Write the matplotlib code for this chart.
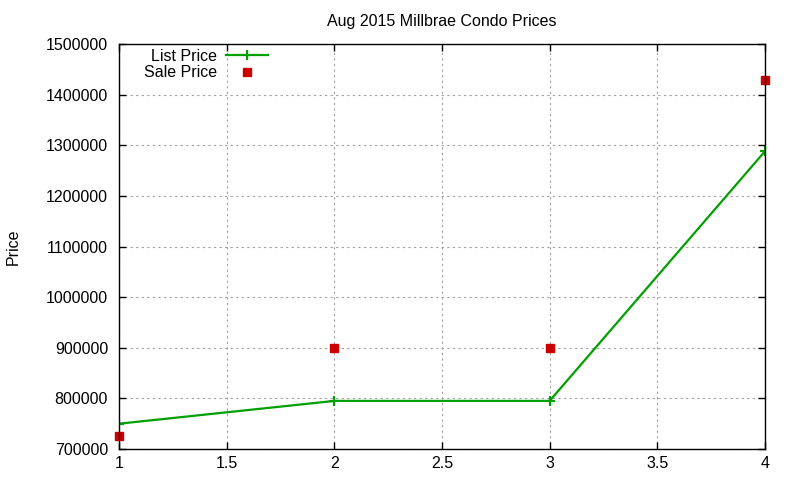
import matplotlib
matplotlib.use("Agg")
import matplotlib.pyplot as plt

plt.rcParams['font.family'] = ['Liberation Sans', 'DejaVu Sans']

x_vals = [1, 2, 3, 4]
list_price = [750000, 795000, 795000, 1288000]
sale_price = [725000, 900000, 900000, 1430000]

y_ticks = [700000, 800000, 900000, 1000000, 1100000, 1200000, 1300000, 1400000, 1500000]
x_ticks = [1, 1.5, 2, 2.5, 3, 3.5, 4]

fig = plt.figure(figsize=(8, 4.8), dpi=100)
ax = fig.add_axes([0.149, 0.0646, 0.807, 0.8434])

ax.plot(x_vals, list_price, color='#00a000', lw=1.6, marker='+', ms=7, mew=1.5,
        label='List Price')
ax.plot(x_vals, sale_price, ls='none', marker='s', ms=6, color='#cc0000',
        label='Sale Price', clip_on=False)

ax.set_xlim(1, 4)
ax.set_ylim(700000, 1500000)
ax.set_xticks(x_ticks)
ax.set_xticklabels(['1', '1.5', '2', '2.5', '3', '3.5', '4'])
ax.set_yticks(y_ticks)
ax.set_yticklabels([str(v) for v in y_ticks])
ax.tick_params(direction='in', top=True, right=True, length=5, labelsize=11.5, width=1)
ax.tick_params(axis='y', pad=8)
ax.tick_params(axis='x', pad=5)
ax.grid(True, color='#a0a0a0', ls=(0, (2, 3)), lw=0.8)
for s in ax.spines.values():
    s.set_linewidth(1)

ax.set_title('Aug 2015 Millbrae Condo Prices', fontsize=11.5, pad=13)
ax.set_ylabel('Price', fontsize=11.5, labelpad=18)

leg = ax.legend(loc='upper left', bbox_to_anchor=(0.023, 1.012), markerfirst=False,
                frameon=False, fontsize=11.5, handlelength=2.6, labelspacing=0.08,
                borderaxespad=0.2, handletextpad=0.6)
for t in leg.get_texts():
    t.set_ha('right')

fig.savefig('out.png', dpi=100)
